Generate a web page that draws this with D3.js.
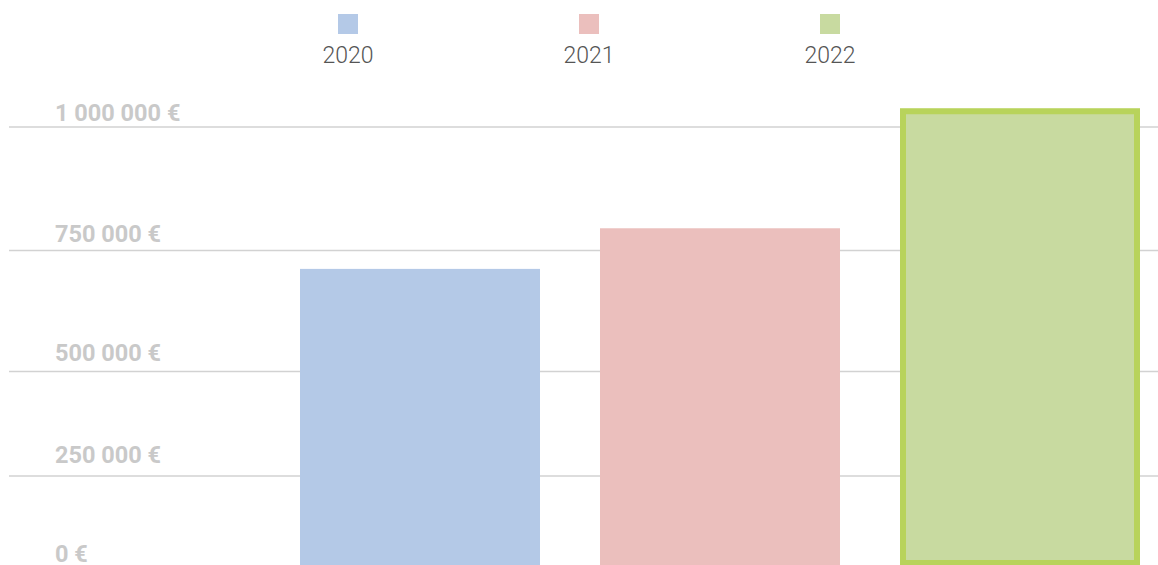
<!DOCTYPE html>
<html>
<head>
<meta charset="utf-8">
<script src="https://cdn.jsdelivr.net/npm/d3@7"></script>
<style>
  body { margin: 0; background: #fff; }
  svg { display: block; font-family: Roboto, sans-serif; }
</style>
</head>
<body>
<div id="chart"></div>
<script>
// data
var years = ["2020", "2021", "2022"];
var amounts = [712000, 795000, 1038000];
var colors = ["#b4c9e7", "#ebbfbd", "#c8daa0"];
var ticks = [0, 250000, 500000, 750000, 1000000];
var tickLabels = ["0 €", "250 000 €", "500 000 €", "750 000 €", "1 000 000 €"];

var W = 1158, H = 565;
var svg = d3.select("#chart").append("svg").attr("width", W).attr("height", H);

// the picture's value axis is not evenly spaced, so piecewise
var y = d3.scaleLinear().domain(ticks).range([566, 476, 371.5, 250.5, 127]);
var yLab = d3.scaleLinear().domain(ticks).range([562, 463, 361, 242, 121]);

var x = d3.scaleBand().domain(years).range([270, 1170])
    .paddingInner(0.2).paddingOuter(0.1);
var xLeg = d3.scalePoint().domain(years).range([348, 830]);
var color = d3.scaleOrdinal().domain(years).range(colors);

// grid
svg.selectAll(".grid").data(ticks.slice(1)).enter()
  .append("line").attr("class", "grid")
  .attr("x1", 9).attr("x2", W)
  .attr("y1", d => y(d)).attr("y2", d => y(d))
  .attr("stroke", "#d2d2d2").attr("stroke-width", 1.6);

svg.selectAll(".ylab").data(ticks).enter()
  .append("text").attr("class", "ylab")
  .attr("x", 55).attr("y", d => yLab(d))
  .attr("fill", "#c9c9c9").attr("font-size", 23.5).attr("font-weight", 700)
  .text((d, i) => tickLabels[i]);

// bars
var sw = 6;
years.forEach(function(yr, i){
  var last = i == years.length - 1;
  var off = last ? sw / 2 : 0;
  svg.append("rect")
    .attr("x", x(yr) + off)
    .attr("y", y(amounts[i]) + off)
    .attr("width", x.bandwidth() - 2 * off)
    .attr("height", y(0) - y(amounts[i]) - 2 * off)
    .attr("fill", color(yr))
    .attr("stroke", last ? "#b8d35b" : "none")
    .attr("stroke-width", last ? sw : 0);
});

// legend
var leg = svg.selectAll(".leg").data(years).enter()
  .append("g").attr("class", "leg")
  .attr("transform", d => "translate(" + xLeg(d) + ",0)");
leg.append("rect").attr("x", -10).attr("y", 14).attr("width", 20).attr("height", 20)
  .attr("fill", d => color(d));
leg.append("text").attr("y", 63).attr("text-anchor", "middle")
  .attr("font-size", 23).attr("font-weight", 300).attr("fill", "#555")
  .text(d => d);
</script>
</body>
</html>
